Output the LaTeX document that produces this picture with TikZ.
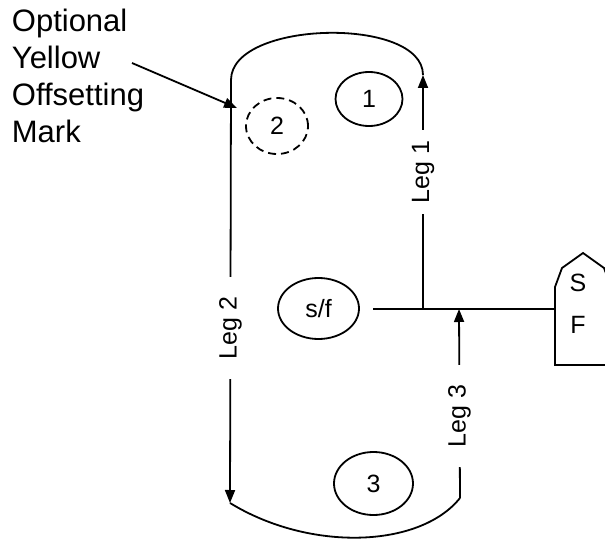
\documentclass[tikz,border=0pt]{standalone}
\usepackage{fontspec}
\setmainfont{Liberation Sans}
\usetikzlibrary{shapes.geometric,arrows.meta}
\begin{document}
\begin{tikzpicture}[x=1pt,y=-1pt,line width=1.8pt,
  oval/.style={draw,ellipse,inner sep=0pt,font=\fontsize{25}{30}\selectfont},
  leglbl/.style={fill=white,rotate=90,font=\fontsize{25}{30}\selectfont,inner ysep=2pt},
  lbl/.style={font=\fontsize{25}{30}\selectfont,inner sep=0pt},
  side/.style={font=\fontsize{31}{37}\selectfont,inner sep=0pt,anchor=base west},
  tip/.style={-{Triangle[length=13pt,width=10pt]}}]
\useasboundingbox (0,0) rectangle (605,540);
\clip (0,0) rectangle (605,540);
% side text
\node[side] (t1) at (11,32) {Optional};
\node[side] (t2) at (11,69) {Yellow};
\node[side] (t3) at (11,106) {Offsetting};
\node[side] (t4) at (11,143) {Mark};
% ovals
\node[oval,minimum width=67pt,minimum height=54pt] (e1) at (369,99) {1};
\node[oval,dash pattern=on 8pt off 5pt,minimum width=62pt,minimum height=56pt] (e2) at (277,126) {2};
\node[oval,minimum width=81pt,minimum height=61pt] (sf) at (318.5,308.5) {s/f};
\node[oval,minimum width=79pt,minimum height=63pt] (e3) at (373.5,483.5) {3};
% coordinates
\coordinate (tl) at (231,80);
\coordinate (tr) at (423,75);
\coordinate (bl) at (230,503);
\coordinate (br) at (460,498);
\coordinate (j1) at (423,309);
\coordinate (j3) at (459,309);
\coordinate (h0) at (373,309);
\coordinate (hw) at (555,309);
\coordinate (ya) at (132,63);
\coordinate (yb) at (237,108);
% arcs
\draw (tl) .. controls (231,20) and (423,16) .. (tr);
\draw (bl) .. controls (310,552) and (420,548) .. (br);
% legs
\draw[tip] (tl) -- node[leglbl,pos=0.586,inner xsep=19.5pt] {Leg 2} (bl);
\draw[tip] (j1) -- node[leglbl,pos=0.585,inner xsep=11pt] {Leg 1} (tr);
\draw[tip] (br) -- node[leglbl,pos=0.434,inner xsep=20pt] {Leg 3} (j3);
% horizontal line
\draw (h0) -- (hw);
% house
\draw (555,365) -- (555,287) -- (562,268) -- (583,253) -- (604,268) -- (611,287) -- (611,365) -- cycle;
\node[lbl] (hs) at (578,283) {S};
\node[lbl] (hf) at (578,325) {F};
% yellow mark pointer
\draw[tip] (ya) -- (yb);
\end{tikzpicture}
\end{document}
